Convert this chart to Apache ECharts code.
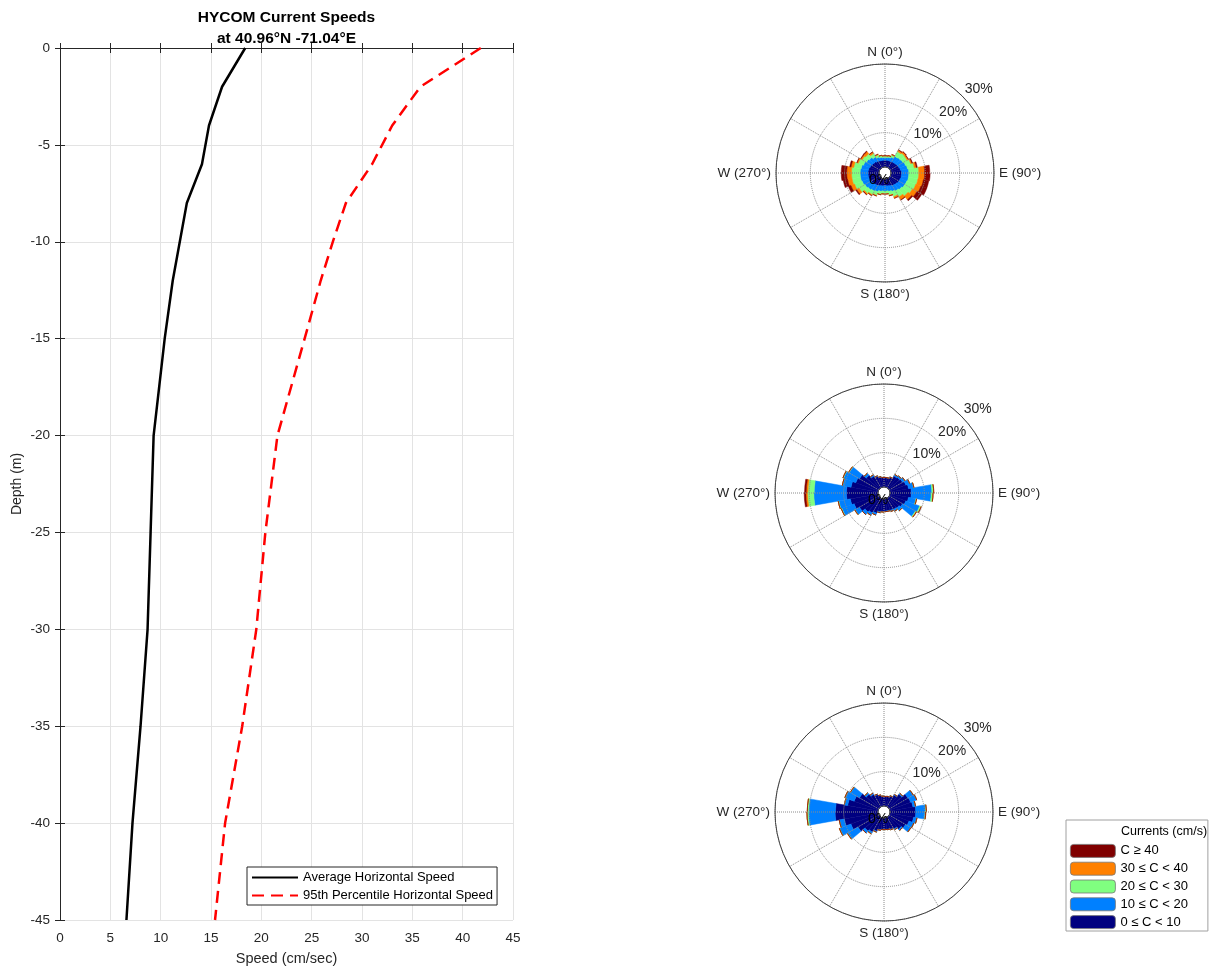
<!DOCTYPE html>
<html><head><meta charset="utf-8">
<script src="https://cdn.jsdelivr.net/npm/echarts@6/dist/echarts.min.js"></script>
<style>html,body{margin:0;padding:0;background:#fff}#c{width:1214px;height:971px}</style>
</head><body><div id="c"></div>
<script>
// ---- Depth profile data ----
const depths   = [0, -2, -4, -6, -8, -10, -12, -15, -20, -25, -30, -35, -40, -45];
const avgSpeed = [18.4, 16.1, 14.8, 14.1, 12.6, 11.9, 11.2, 10.4, 9.3, 9.0, 8.7, 8.0, 7.2, 6.6];
const p95Speed = [41.8, 35.8, 33.0, 31.0, 28.4, 27.1, 25.9, 24.3, 21.6, 20.4, 19.5, 18.1, 16.4, 15.4];
const xTicks = [0, 5, 10, 15, 20, 25, 30, 35, 40, 45];

// ---- Rose direction sectors (10 degree bins, starting at 0 = North) ----
const directions = ['0','10','20','30','40','50','60','70','80','90','100','110','120','130','140','150','160','170',
  '180','190','200','210','220','230','240','250','260','270','280','290','300','310','320','330','340','350'];
const binNames = ['0 \u2264 C < 10', '10 \u2264 C < 20', '20 \u2264 C < 30', '30 \u2264 C < 40', 'C \u2265 40'];
const radialTicks = ['0%', '10%', '20%', '30%'];

// Rose 1 (frequency %, per bin)
const r1_0_10  = [2.0,2.0,2.0,2.1,2.2,2.4,2.6,2.8,3.1,3.1,3.1,3.0,2.9,2.7,2.5,2.3,2.1,2.0,2.0,2.1,2.3,2.5,2.7,2.9,3.1,3.2,3.2,3.2,3.1,2.9,2.7,2.5,2.3,2.1,2.0,2.0];
const r1_10_20 = [0.8,0.9,1.2,1.8,1.9,1.9,2.0,2.1,2.1,2.1,2.1,2.0,2.0,1.9,1.8,1.7,1.6,1.5,1.5,1.6,1.8,1.9,2.0,2.1,2.2,2.3,2.3,2.3,2.2,2.0,1.8,1.7,1.4,1.1,0.9,0.8];
const r1_20_30 = [0.4,0.4,0.6,1.6,1.7,1.4,1.6,2.0,2.9,2.9,2.8,2.8,2.6,2.4,2.0,1.6,1.1,0.8,0.8,0.9,1.1,1.2,1.4,2.0,2.4,2.5,2.5,2.5,2.2,1.6,1.4,1.4,1.1,0.7,0.5,0.4];
const r1_30_40 = [0.1,0.1,0.2,0.5,0.5,0.4,0.4,0.6,1.7,1.7,1.6,1.6,1.5,1.4,1.0,0.5,0.2,0.1,0.1,0.1,0.2,0.3,0.4,0.8,1.1,1.3,1.4,1.4,0.8,0.4,0.5,0.8,0.5,0.2,0.1,0.1];
const r1_40up  = [0,0,0,0.1,0.1,0.1,0.2,0.3,1.5,1.6,1.6,1.8,1.6,0.4,0.1,0,0,0,0,0,0,0,0.1,0.3,0.8,1.3,1.6,1.6,0.4,0.1,0.1,0.2,0.1,0,0,0];

// Rose 2
const r2_0_10  = [2.8,2.8,3.2,4.0,4.2,4.5,5.0,5.5,6.2,6.2,5.5,5.0,4.5,4.0,3.8,3.6,3.5,3.5,3.6,3.8,4.5,5.0,5.5,6.5,7.5,8.2,9.2,9.2,8.0,7.0,6.5,5.0,4.0,3.4,3.0,2.8];
const r2_10_20 = [0,0,0,0.5,0.6,0.8,1.2,1.5,6.0,5.8,2.2,4.3,4.3,1.0,0.6,0.4,0.2,0.2,0.2,0.3,0.6,0.8,1.0,1.5,3.8,3.4,9.5,9.4,2.5,3.8,3.5,0.8,0.4,0.2,0.1,0];
const r2_20_30 = [0,0,0,0,0,0,0,0.1,0.5,0.5,0.2,0.4,0.3,0.1,0,0,0,0,0,0,0,0,0,0.1,0.2,0.2,1.8,1.8,0.1,0.2,0.2,0,0,0,0,0];
const r2_30_40 = [0,0,0,0,0,0,0,0,0.05,0.05,0,0.1,0.1,0,0,0,0,0,0,0,0,0,0,0,0,0,0.5,0.5,0,0,0,0,0,0,0,0];
const r2_40up  = [0,0,0,0,0,0,0,0,0,0,0,0,0,0,0,0,0,0,0,0,0,0,0,0,0,0,0.5,0.5,0,0,0,0,0,0,0,0];

// Rose 3
const r3_0_10  = [2.8,2.9,3.3,4.0,5.0,6.3,6.5,6.8,7.5,7.5,7.0,6.0,5.5,4.8,4.0,3.6,3.4,3.3,3.3,3.5,4.2,5.0,5.5,7.0,8.5,10.0,12.5,12.4,9.0,7.5,6.5,5.0,4.2,3.6,3.2,2.9];
const r3_10_20 = [0,0,0,0.2,0.4,1.8,1.9,0.8,2.9,2.7,1.0,1.5,1.8,0.5,0.3,0.2,0.1,0.1,0.1,0.2,0.3,0.6,0.8,3.5,3.5,1.5,7.8,7.8,1.0,2.8,3.0,0.6,0.4,0.2,0.1,0];
const r3_20_30 = [0,0,0,0,0,0,0,0,0.2,0.2,0,0,0,0,0,0,0,0,0,0,0,0,0,0.1,0.1,0,0.4,0.4,0,0.1,0.1,0,0,0,0,0];
const r3_30_40 = [0,0,0,0,0,0,0,0,0,0,0,0,0,0,0,0,0,0,0,0,0,0,0,0,0,0,0,0,0,0,0,0,0,0,0,0];
const r3_40up  = [0,0,0,0,0,0,0,0,0,0,0,0,0,0,0,0,0,0,0,0,0,0,0,0,0,0,0,0,0,0,0,0,0,0,0,0];

const roses = [
  [r1_0_10, r1_10_20, r1_20_30, r1_30_40, r1_40up],
  [r2_0_10, r2_10_20, r2_20_30, r2_30_40, r2_40up],
  [r3_0_10, r3_10_20, r3_20_30, r3_30_40, r3_40up]
];
const binColors = ['#000080', '#0080ff', '#80ff80', '#ff8000', '#800000'];

// ---- layout ----
const FONT = "'Liberation Sans', Arial, sans-serif";
const TXT = '#262626';
const centers = [[885, 173], [884, 493], [884, 812]];
const compassNames = {0: 'N (0\u00b0)', 90: 'E (90\u00b0)', 180: 'S (180\u00b0)', 270: 'W (270\u00b0)'};

const polar = [], angleAxis = [], radiusAxis = [], series = [];
centers.forEach(c => polar.push({center: c, radius: [6, 109]}));   // bars
centers.forEach(c => polar.push({center: c, radius: [6, 109]}));   // grid
centers.forEach(c => polar.push({center: c, radius: [23, 126]}));  // % labels

for (let k = 0; k < 3; k++) {
  angleAxis.push({polarIndex: k, type: 'category', data: directions, startAngle: 90, clockwise: true,
    boundaryGap: true, axisLine: {show: false}, axisTick: {show: false}, axisLabel: {show: false}, splitLine: {show: false}});
  radiusAxis.push({polarIndex: k, type: 'value', min: 0, max: 30, show: false,
    axisLine: {show: false}, axisTick: {show: false}, axisLabel: {show: false}, splitLine: {show: false}});
}
for (let k = 0; k < 3; k++) {
  angleAxis.push({polarIndex: 3 + k, type: 'value', min: 0, max: 360, interval: 30, startAngle: 180, clockwise: true, z: 10,
    axisLine: {lineStyle: {color: '#404040', width: 1}}, axisTick: {show: false},
    axisLabel: {margin: 5, color: TXT, fontSize: 13.5, fontFamily: FONT,
      formatter: v => { const cmp = (270 + v) % 360; return (v < 360 && compassNames[cmp]) ? compassNames[cmp] : ''; }},
    splitLine: {show: true, lineStyle: {type: 'dotted', color: '#8c8c8c', width: 1}}});
  radiusAxis.push({polarIndex: 3 + k, type: 'value', min: 0, max: 30, interval: 10, z: 10,
    axisLine: {show: false}, axisTick: {show: false},
    axisLabel: {margin: 0, align: 'center', verticalAlign: 'top', fontSize: 14, color: '#000', fontFamily: FONT,
      formatter: v => v === 0 ? radialTicks[0] : ''},
    splitLine: {show: true, lineStyle: {type: 'dotted', color: '#8c8c8c', width: 1}}});
}
for (let k = 0; k < 3; k++) {
  angleAxis.push({polarIndex: 6 + k, type: 'value', min: 0, max: 360, startAngle: 42, clockwise: true,
    axisLine: {show: false}, axisTick: {show: false}, axisLabel: {show: false}, splitLine: {show: false}});
  radiusAxis.push({polarIndex: 6 + k, type: 'value', min: 0, max: 30, interval: 10, z: 10,
    axisLine: {show: false}, axisTick: {show: false}, splitLine: {show: false},
    axisLabel: {margin: 0, align: 'center', verticalAlign: 'middle', fontSize: 14, color: TXT, fontFamily: FONT,
      formatter: v => v === 0 ? '' : radialTicks[Math.round(v / 10)]}});
}
roses.forEach((bins, k) => {
  bins.forEach((arr, b) => {
    series.push({type: 'bar', name: binNames[b], coordinateSystem: 'polar', polarIndex: k, stack: 'rose' + k,
      data: arr, barCategoryGap: '0%', barGap: '0%', z: 1,
      itemStyle: {color: binColors[b], borderColor: binColors[b], borderWidth: 0.5}, silent: true});
  });
});

series.push({type: 'line', name: 'Average Horizontal Speed', xAxisIndex: 0, yAxisIndex: 0, symbol: 'none', z: 3,
  data: depths.map((d, i) => [avgSpeed[i], d]), lineStyle: {color: '#000', width: 2.5}, itemStyle: {color: '#000'}});
series.push({type: 'line', name: '95th Percentile Horizontal Speed', xAxisIndex: 0, yAxisIndex: 0, symbol: 'none', z: 3,
  data: depths.map((d, i) => [p95Speed[i], d]), lineStyle: {color: '#ff0000', width: 2.5, type: [12, 7]}, itemStyle: {color: '#ff0000'}});

function tick(inside, len) { return {show: true, inside: inside, length: len, lineStyle: {color: TXT, width: 1}}; }
function line() { return {show: true, lineStyle: {color: TXT, width: 1}}; }

const option = {
  animation: false,
  backgroundColor: '#fff',
  textStyle: {fontFamily: FONT},
  title: [
    {text: 'HYCOM Current Speeds\nat 40.96\u00b0N -71.04\u00b0E', left: 286.5, top: 7, textAlign: 'center', padding: 0,
      textStyle: {fontSize: 15.5, fontWeight: 'bold', lineHeight: 21, color: '#000', fontFamily: FONT}},
    {text: 'Currents (cm/s)', left: 1164, top: 825, textAlign: 'center', padding: 0, z: 10,
      textStyle: {fontSize: 12.5, fontWeight: 'normal', color: '#000', fontFamily: FONT}}
  ],
  grid: {left: 60, right: 701, top: 48, bottom: 49, containLabel: false},
  xAxis: [
    {type: 'value', position: 'bottom', min: 0, max: 45, interval: 5, z: 3,
      name: 'Speed (cm/sec)', nameLocation: 'middle', nameGap: 31,
      nameTextStyle: {fontSize: 14.5, color: TXT, fontFamily: FONT},
      axisLine: line(), axisTick: tick(false, -5),
      axisLabel: {fontSize: 13.5, color: TXT, margin: 11, fontFamily: FONT, formatter: v => String(xTicks[Math.round(v / 5)])},
      splitLine: {show: true, lineStyle: {color: '#e3e3e3'}}},
    {type: 'value', position: 'top', min: 0, max: 45, interval: 5, z: 3,
      axisLine: line(), axisTick: tick(false, -5),
      axisLabel: {show: false}, splitLine: {show: false}}
  ],
  yAxis: [
    {type: 'value', position: 'left', min: -45, max: 0, interval: 5, z: 3,
      name: 'Depth (m)', nameLocation: 'middle', nameGap: 36,
      nameTextStyle: {fontSize: 14, color: TXT, fontFamily: FONT},
      axisLine: line(), axisTick: tick(true, 5),
      axisLabel: {fontSize: 13.5, color: TXT, margin: 10, fontFamily: FONT},
      splitLine: {show: true, lineStyle: {color: '#e3e3e3'}}},
    {type: 'value', position: 'right', min: -45, max: 0, interval: 5, z: 3,
      axisLine: line(), axisTick: tick(true, 5),
      axisLabel: {show: false}, splitLine: {show: false}}
  ],
  polar, angleAxis, radiusAxis,
  legend: [
    {data: ['Average Horizontal Speed', '95th Percentile Horizontal Speed'], selectedMode: false,
      left: 247, top: 867, orient: 'vertical', itemWidth: 46, itemHeight: 12, itemGap: 5,
      padding: [4, 4, 3, 4], borderColor: TXT, borderWidth: 1, backgroundColor: '#fff',
      itemStyle: {opacity: 0},
      textStyle: {fontSize: 13, color: '#000', fontFamily: FONT}},
    {data: ['C \u2265 40', '30 \u2264 C < 40', '20 \u2264 C < 30', '10 \u2264 C < 20', '0 \u2264 C < 10'], selectedMode: false,
      left: 1066, top: 820, orient: 'vertical', itemWidth: 45, itemHeight: 13, itemGap: 4,
      padding: [24, 20, 2, 4], borderColor: '#a0a0a0', borderWidth: 1, backgroundColor: '#fff',
      itemStyle: {borderColor: '#777', borderWidth: 0.8},
      textStyle: {fontSize: 13, color: '#000', fontFamily: FONT}}
  ],
  series
};
const chart = echarts.init(document.getElementById('c'), null, {renderer: 'canvas'});
chart.setOption(option);
</script></body></html>
